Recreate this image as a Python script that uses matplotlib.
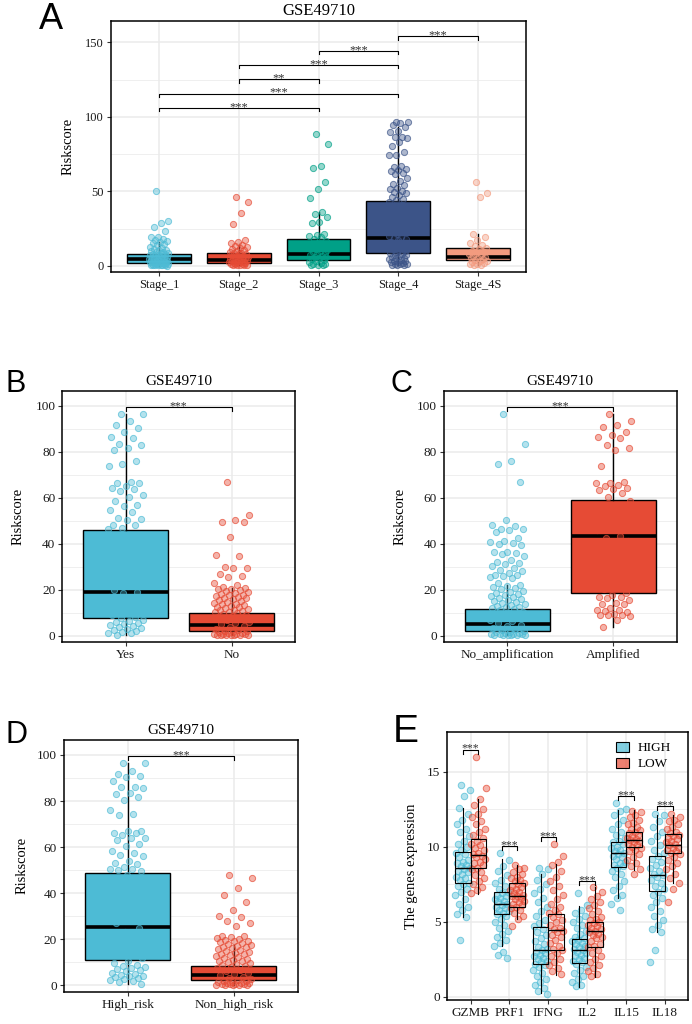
import numpy as np
import matplotlib.pyplot as plt
from matplotlib.colors import to_rgba
from matplotlib.patches import Patch

plt.rcParams['font.family'] = ['Liberation Serif', 'DejaVu Serif']

# ggsci npg colours
red = '#E64B35'
cyan = '#4DBBD5'
teal = '#00A087'
navy = '#3C5488'
salmon = '#F39B7F'

# ---------------- data ----------------
# panel A: riskscore by stage
stages = ['Stage_1', 'Stage_2', 'Stage_3', 'Stage_4', 'Stage_4S']
stage_q1 = [1.6, 1.9, 3.8, 8.8, 3.8]
stage_med = [4.6, 4.0, 7.7, 18.5, 5.6]
stage_q3 = [7.9, 8.3, 18.2, 43.4, 11.7]
stage_lo = [0.1, 0.2, 0.2, 0.5, 0.3]
stage_hi = [16.0, 14.0, 36.0, 93.4, 21.3]
stage1_pts = [50.5, 30.2, 28.5, 26.2, 23.5, 19.5, 19.0, 18.2, 17.5, 16.8, 16.0, 15.2, 14.5, 13.6,
              12.8, 12.0, 11.4, 10.8, 10.3, 9.9, 9.5, 9.1, 8.7, 8.3, 8.0, 7.6, 7.3, 7.0, 6.7, 6.4,
              6.1, 5.8, 5.5, 5.2, 5.0, 4.8, 4.6, 4.4, 4.2, 4.0, 3.8, 3.6, 3.4, 3.2, 3.0, 2.8, 2.6,
              2.4, 2.2, 2.0, 1.8, 1.6, 1.4, 1.3, 1.1, 1.0, 0.9, 0.8, 0.7, 0.6, 0.5, 0.4, 0.3, 0.2, 0.1]
stage2_pts = [46.3, 42.6, 35.2, 27.8, 17.2, 16.0, 15.0, 14.0, 13.2, 12.5, 11.8, 11.0, 10.4, 9.8,
              9.3, 8.8, 8.4, 8.0, 7.6, 7.2, 6.8, 6.4, 6.0, 5.7, 5.4, 5.1, 4.8, 4.5, 4.2, 3.9, 3.6,
              3.3, 3.0, 2.8, 2.6, 2.4, 2.2, 2.0, 1.8, 1.6, 1.4, 1.2, 1.0, 0.8, 0.6, 0.4, 0.3, 0.2]
stage3_pts = [88.4, 81.7, 66.9, 65.6, 56.2, 51.5, 45.7, 36.0, 35.0, 32.9, 29.5, 28.8, 21.0, 20.6,
              20.0, 19.2, 18.0, 16.5, 15.0, 13.8, 12.5, 11.5, 10.5, 9.8, 9.0, 8.4, 7.9, 7.4, 6.8,
              6.2, 5.6, 5.0, 4.4, 3.8, 3.2, 2.6, 2.0, 1.4, 0.9, 0.5, 0.3, 0.2]
stage4_pts = [96.6, 96.4, 96.0, 94.2, 93.0, 90.7, 89.5, 86.6, 86.2, 85.5, 83.3, 80.6, 76.1, 74.5,
              74.2, 67.2, 66.6, 65.0, 64.3, 63.8, 62.5, 61.6, 58.7, 56.9, 55.0, 54.2, 52.0, 51.3,
              50.4, 49.5, 48.6, 47.5, 46.2, 45.0, 44.0, 42.5, 40.5, 38.0, 36.0, 34.0, 32.0, 30.0,
              28.5, 27.0, 25.5, 24.0, 22.5, 21.0, 20.0, 19.0, 18.5, 18.0, 17.0, 16.0, 15.0, 14.0,
              13.0, 12.0, 11.0, 10.2, 9.5, 8.8, 8.2, 7.5, 7.0, 6.5, 6.0, 5.5, 5.0, 4.5, 4.0, 3.5,
              3.0, 2.6, 2.2, 1.8, 1.5, 1.2, 1.0, 0.8, 0.6, 0.5]
stage4s_pts = [56.4, 48.6, 46.3, 21.5, 19.0, 17.5, 15.5, 14.2, 13.0, 12.0, 11.0, 10.0, 9.2, 8.5,
               7.8, 7.2, 6.6, 6.0, 5.5, 5.0, 4.5, 4.0, 3.5, 3.0, 2.5, 2.0, 1.5, 1.0, 0.5, 0.3]
stage_sig = [(0, 2, 106.1, '***'), (0, 3, 115.6, '***'), (1, 2, 125.2, '**'),
             (1, 3, 134.8, '***'), (2, 3, 144.4, '***'), (3, 4, 154.0, '***')]

# panel B: Yes / No
b_groups = ['Yes', 'No']
b_q1 = [7.6, 2.0]
b_med = [19.1, 4.6]
b_q3 = [46.1, 9.7]
b_lo = [0.5, 0.1]
b_hi = [96.6, 20.7]
yes_pts = [96.6, 96.2, 93.2, 91.6, 90.5, 88.5, 86.3, 86.0, 83.3, 83.0, 81.8, 80.7, 76.0, 74.5,
           74.0, 67.0, 66.5, 66.2, 65.3, 64.2, 64.0, 63.0, 61.0, 60.3, 58.6, 57.0, 56.3, 54.6,
           53.8, 51.2, 50.7, 50.5, 48.2, 48.0, 47.0, 46.5, 44.0, 41.5, 38.0, 35.5, 32.0, 29.0,
           26.5, 24.0, 21.5, 19.8, 19.2, 18.6, 17.0, 15.0, 13.0, 11.5, 10.0, 9.0, 8.2, 7.6, 7.0,
           6.4, 5.9, 5.4, 5.0, 4.6, 4.2, 3.8, 3.4, 3.0, 2.6, 2.2, 1.8, 1.4, 1.0, 0.5]
no_pts = [67.0, 52.5, 50.3, 49.6, 49.4, 42.8, 35.2, 34.8, 30.0, 29.6, 29.4, 27.0, 26.1, 25.6,
          23.0, 22.1, 21.3, 20.7, 20.4, 20.1, 19.7, 19.3, 19.0, 18.6, 18.3, 17.9, 17.5, 17.2,
          16.9, 16.5, 16.2, 15.8, 15.5, 15.1, 14.7, 14.4, 14.0, 13.7, 13.4, 13.0, 12.7, 12.4,
          12.1, 11.7, 11.4, 11.1, 10.8, 10.5, 10.2, 9.9, 9.5, 9.1, 8.6, 8.0, 7.4, 6.8, 6.1, 5.5,
          4.9, 4.3, 3.7, 3.1, 2.6, 2.2, 1.9, 1.7, 1.5, 1.3, 1.1, 0.9, 0.8, 0.7, 0.6, 0.5, 0.4,
          0.3, 0.25, 0.2, 0.15, 0.1]

# panel C: MYCN status
c_groups = ['No_amplification', 'Amplified']
c_q1 = [2.2, 18.6]
c_med = [5.1, 43.5]
c_q3 = [11.5, 58.9]
c_lo = [0.1, 3.9]
c_hi = [22.0, 96.5]
noamp_pts = [96.5, 83.5, 76.0, 74.5, 67.0, 50.5, 48.0, 47.6, 46.6, 46.2, 45.8, 45.0, 42.5, 41.0,
             40.6, 40.2, 39.8, 39.4, 36.5, 36.2, 35.8, 35.4, 34.5, 33.0, 32.2, 31.6, 31.0, 30.2,
             29.5, 28.5, 28.0, 27.4, 26.5, 26.2, 25.8, 25.5, 25.2, 23.0, 22.2, 21.6, 21.0, 20.6,
             20.1, 19.6, 19.1, 18.7, 18.2, 17.8, 17.4, 17.0, 16.5, 16.1, 15.6, 15.2, 14.7, 14.3,
             13.9, 13.5, 13.1, 12.7, 12.3, 11.9, 11.5, 11.0, 10.4, 9.8, 9.1, 8.4, 7.6, 6.9, 6.2,
             5.5, 4.8, 4.1, 3.5, 2.9, 2.4, 2.0, 1.7, 1.5, 1.3, 1.1, 0.9, 0.8, 0.7, 0.6, 0.5, 0.4,
             0.3, 0.25, 0.2, 0.1]
amp_pts = [96.5, 93.2, 91.6, 90.6, 88.6, 87.2, 86.2, 86.0, 83.0, 81.7, 80.7, 74.0, 67.0, 66.6,
           66.3, 65.5, 65.0, 64.3, 64.0, 63.5, 62.0, 60.5, 58.6, 57.0, 55.0, 52.0, 49.0, 46.0,
           43.5, 42.5, 41.0, 38.0, 35.0, 32.0, 29.0, 26.0, 23.0, 20.5, 18.5, 17.6, 17.0, 16.8,
           16.5, 15.5, 14.2, 14.0, 13.6, 12.0, 11.2, 11.0, 10.8, 10.2, 9.5, 9.2, 9.0, 8.8, 8.5,
           7.0, 3.8]

# panel D: risk group
d_groups = ['High_risk', 'Non_high_risk']
d_q1 = [11.0, 2.3]
d_med = [25.2, 4.5]
d_q3 = [48.6, 8.4]
d_lo = [0.6, 0.1]
d_hi = [96.5, 17.5]
high_pts = [96.5, 96.4, 93.2, 91.6, 91.0, 90.5, 88.6, 86.3, 86.0, 85.8, 83.3, 83.0, 81.7, 80.6,
            76.2, 74.5, 74.0, 67.0, 66.8, 66.3, 66.0, 65.2, 64.0, 63.8, 63.0, 61.5, 60.5, 58.5,
            57.5, 56.5, 56.2, 54.0, 53.2, 52.5, 51.2, 50.6, 50.4, 50.0, 49.5, 48.0, 45.0, 41.0,
            37.0, 33.0, 30.0, 27.0, 25.0, 23.0, 20.0, 17.0, 14.0, 12.0, 10.5, 9.5, 9.0, 8.5, 8.0,
            7.5, 7.0, 6.5, 6.0, 5.5, 5.0, 4.6, 4.2, 4.0, 3.6, 3.2, 2.8, 2.4, 2.0, 1.5, 0.6]
nonhigh_pts = [48.0, 46.5, 42.2, 39.2, 36.2, 32.8, 30.0, 29.5, 28.0, 27.2, 25.8, 21.5, 21.2, 20.9,
               20.6, 20.2, 19.8, 19.4, 19.1, 18.7, 18.3, 17.9, 17.5, 17.1, 16.8, 16.4, 16.0, 15.6,
               15.2, 14.9, 14.5, 14.1, 13.7, 13.4, 13.0, 12.6, 12.2, 11.9, 11.5, 11.1, 10.7, 10.4,
               10.0, 9.6, 9.2, 8.8, 8.4, 7.9, 7.3, 6.7, 6.1, 5.5, 4.9, 4.3, 3.7, 3.1, 2.6, 2.2, 1.9,
               1.7, 1.5, 1.3, 1.1, 0.9, 0.8, 0.7, 0.6, 0.5, 0.4, 0.3, 0.25, 0.2, 0.15, 0.1]

# panel E: gene expression HIGH vs LOW
genes = ['GZMB', 'PRF1', 'IFNG', 'IL2', 'IL15', 'IL18']
high_q1 = [7.56, 5.49, 2.16, 2.27, 8.67, 7.04]
high_med = [8.62, 6.22, 3.11, 3.11, 9.56, 8.11]
high_q3 = [9.67, 6.96, 4.67, 3.84, 10.33, 9.38]
high_lo = [5.33, 3.38, 0.22, 0.67, 6.56, 4.33]
high_hi = [12.6, 9.16, 8.22, 6.07, 12.44, 12.1]
low_q1 = [8.62, 6.0, 3.11, 3.33, 9.96, 9.56]
low_med = [9.44, 6.73, 4.44, 4.38, 10.44, 10.1]
low_q3 = [10.56, 7.6, 5.49, 5.0, 11.0, 10.84]
low_lo = [6.84, 5.16, 1.44, 1.33, 8.49, 7.56]
low_hi = [13.2, 8.78, 8.84, 7.33, 12.44, 12.1]
gene_sig = [16.5, 10.07, 10.67, 7.73, 13.38, 12.7]
high_gzmb = [14.1, 13.8, 13.4, 12.6, 12.2, 11.8, 11.5, 11.2, 11.0, 10.7, 10.4, 10.2, 10.0, 9.8, 9.6,
             9.5, 9.3, 9.1, 9.0, 8.9, 8.8, 8.7, 8.6, 8.5, 8.4, 8.3, 8.2, 8.0, 7.9, 7.8, 7.6, 7.5,
             7.4, 7.2, 7.0, 6.8, 6.5, 6.2, 6.0, 5.8, 5.5, 5.3, 3.8]
low_gzmb = [16.0, 13.9, 13.2, 12.8, 12.5, 12.2, 12.0, 11.7, 11.5, 11.2, 11.0, 10.8, 10.6, 10.4,
            10.2, 10.1, 9.9, 9.8, 9.6, 9.5, 9.4, 9.3, 9.2, 9.0, 8.9, 8.8, 8.6, 8.5, 8.3, 8.1, 7.9,
            7.7, 7.5, 7.3, 7.1, 6.9]
high_prf1 = [9.6, 9.1, 8.7, 8.4, 8.1, 7.8, 7.6, 7.4, 7.2, 7.0, 6.9, 6.8, 6.7, 6.6, 6.5, 6.4, 6.3,
             6.2, 6.1, 6.0, 5.9, 5.8, 5.7, 5.6, 5.5, 5.4, 5.2, 5.0, 4.8, 4.6, 4.4, 4.2, 4.0, 3.8,
             3.6, 3.4, 3.0, 2.8, 2.6]
low_prf1 = [8.8, 8.6, 8.5, 8.3, 8.2, 8.0, 7.9, 7.8, 7.7, 7.6, 7.5, 7.4, 7.3, 7.2, 7.1, 7.0, 6.9,
            6.8, 6.75, 6.7, 6.6, 6.5, 6.4, 6.3, 6.2, 6.1, 6.0, 5.9, 5.8, 5.6, 5.4, 5.2, 4.7]
high_ifng = [8.6, 8.5, 8.2, 7.8, 7.5, 7.2, 6.9, 6.6, 6.3, 6.0, 5.7, 5.4, 5.1, 4.9, 4.7, 4.5, 4.3,
             4.1, 3.9, 3.7, 3.5, 3.3, 3.2, 3.1, 3.0, 2.9, 2.8, 2.7, 2.6, 2.5, 2.4, 2.3, 2.2, 2.1,
             2.0, 1.8, 1.6, 1.4, 1.2, 1.0, 0.8, 0.6, 0.4, 0.2]
low_ifng = [10.2, 9.4, 9.0, 8.8, 8.4, 8.0, 7.7, 7.4, 7.1, 6.8, 6.5, 6.2, 6.0, 5.8, 5.6, 5.5, 5.3,
            5.1, 5.0, 4.8, 4.6, 4.5, 4.4, 4.3, 4.1, 4.0, 3.8, 3.6, 3.4, 3.2, 3.1, 2.9, 2.7, 2.5,
            2.3, 2.1, 1.9, 1.7, 1.5]
high_il2 = [6.9, 6.1, 5.8, 5.6, 5.4, 5.2, 5.0, 4.8, 4.6, 4.4, 4.2, 4.0, 3.9, 3.8, 3.7, 3.6, 3.5,
            3.4, 3.3, 3.2, 3.1, 3.0, 2.9, 2.8, 2.7, 2.6, 2.5, 2.4, 2.3, 2.2, 2.0, 1.8, 1.6, 1.4,
            1.2, 1.0, 0.8, 0.7]
low_il2 = [7.3, 7.0, 6.7, 6.5, 6.3, 6.1, 5.9, 5.7, 5.5, 5.3, 5.2, 5.1, 5.0, 4.9, 4.8, 4.7, 4.6,
           4.5, 4.4, 4.3, 4.2, 4.1, 4.0, 3.9, 3.7, 3.5, 3.4, 3.3, 3.1, 2.9, 2.7, 2.5, 2.3, 2.1,
           1.9, 1.7, 1.5, 1.4]
high_il15 = [12.9, 12.5, 12.4, 12.1, 11.8, 11.5, 11.2, 11.0, 10.8, 10.6, 10.4, 10.3, 10.2, 10.0,
             9.9, 9.8, 9.7, 9.6, 9.5, 9.4, 9.3, 9.2, 9.0, 8.9, 8.8, 8.7, 8.6, 8.4, 8.2, 8.0, 7.7,
             7.4, 7.1, 6.8, 6.6, 6.2, 5.8]
low_il15 = [12.4, 12.3, 12.1, 12.0, 11.8, 11.6, 11.5, 11.3, 11.2, 11.1, 11.0, 10.9, 10.8, 10.7,
            10.6, 10.5, 10.45, 10.4, 10.3, 10.2, 10.1, 10.0, 9.9, 9.8, 9.7, 9.5, 9.3, 9.1, 8.9,
            8.7, 8.5, 8.2]
high_il18 = [12.2, 12.1, 11.7, 11.3, 11.0, 10.7, 10.4, 10.1, 9.8, 9.6, 9.4, 9.2, 9.0, 8.8, 8.6,
             8.4, 8.2, 8.1, 8.0, 7.8, 7.6, 7.4, 7.2, 7.0, 6.8, 6.6, 6.3, 6.0, 5.7, 5.4, 5.1, 4.8,
             4.5, 4.3, 3.1, 2.3]
low_il18 = [12.2, 12.0, 11.8, 11.7, 11.5, 11.3, 11.2, 11.0, 10.9, 10.8, 10.7, 10.6, 10.5, 10.4,
            10.3, 10.2, 10.1, 10.0, 9.9, 9.8, 9.7, 9.6, 9.5, 9.3, 9.1, 8.9, 8.7, 8.5, 8.2, 7.9,
            7.6, 7.2, 6.3]
high_genes = [high_gzmb, high_prf1, high_ifng, high_il2, high_il15, high_il18]
low_genes = [low_gzmb, low_prf1, low_ifng, low_il2, low_il15, low_il18]

# ---------------- drawing ----------------
W, H = 692, 1024
fig = plt.figure(figsize=(6.92, 10.24), dpi=100)
GRID = '#EBEBEB'


def px_axes(left, top, right, bottom):
    return fig.add_axes([left / W, 1 - bottom / H, (right - left) / W, (bottom - top) / H])


def jitter(n, w):
    # evenly spread horizontal offsets (golden-ratio sequence)
    return ((np.arange(n) * 0.6180339887 + 0.37) % 1.0 - 0.5) * 2 * w


def stats(q1, med, q3, lo, hi):
    return [dict(q1=a, med=b, q3=c, whislo=d, whishi=e, fliers=[])
            for a, b, c, d, e in zip(q1, med, q3, lo, hi)]


def dots(ax, x, y, c, s):
    ax.scatter(x, y, s=s, facecolor=to_rgba(c, 0.42), edgecolor=to_rgba(c, 0.7),
               lw=0.7, zorder=3)


def style(ax, xlim, ylim, major, minor, fs):
    ax.set_xlim(*xlim)
    ax.set_ylim(*ylim)
    ax.set_yticks(major)
    ax.set_yticks(minor, minor=True)
    ax.yaxis.grid(True, which='major', color=GRID, lw=1.1)
    ax.yaxis.grid(True, which='minor', color=GRID, lw=0.55)
    ax.xaxis.grid(True, which='major', color=GRID, lw=1.1)
    ax.set_axisbelow(True)
    for s in ax.spines.values():
        s.set_linewidth(1.1)
        s.set_color('black')
    ax.tick_params(which='major', length=3, width=0.8, color='#333333',
                   labelsize=fs, labelcolor='#1a1a1a', pad=2)
    ax.tick_params(which='minor', length=0)


def bracket(ax, x1, x2, y, tick, label, fs):
    ax.plot([x1, x1, x2, x2], [y - tick, y, y, y - tick], color='black', lw=0.8,
            zorder=5, clip_on=False)
    ax.annotate(label, xy=((x1 + x2) / 2, y), xytext=(0, -1.6), textcoords='offset points',
                ha='center', va='baseline', fontsize=fs, color='#333333')


def riskscore_panel(ax, groups, pts, colors, st, jw):
    pos = np.arange(len(groups))
    ax.bxp(st, positions=pos, widths=0.8, patch_artist=True, showfliers=False, showcaps=False,
           boxprops=dict(edgecolor='black', lw=1.0),
           medianprops=dict(color='black', lw=2.6),
           whiskerprops=dict(color='black', lw=1.0), zorder=2)
    for patch, c in zip(ax.patches, colors):
        patch.set_facecolor(c)
    for i, (vals, c) in enumerate(zip(pts, colors)):
        v = np.array(vals)
        dots(ax, i + jitter(len(v), jw), v, c, 20)
    ax.set_xticks(pos)
    ax.set_xticklabels(groups)


def panel_letter(x, y, s, size):
    fig.text(x / W, 1 - y / H, s, fontsize=size, va='baseline', ha='left',
             family=['Liberation Sans Narrow', 'Liberation Sans', 'DejaVu Sans'])


# ---- A ----
axA = px_axes(111, 21, 526, 272)
riskscore_panel(axA, stages, [stage1_pts, stage2_pts, stage3_pts, stage4_pts, stage4s_pts],
                [cyan, red, teal, navy, salmon],
                stats(stage_q1, stage_med, stage_q3, stage_lo, stage_hi), 0.12)
style(axA, (-0.6, 4.6), (-4.2, 164.3), [0, 50, 100, 150], [25, 75, 125], 9)
for a, b, y, lab in stage_sig:
    bracket(axA, a, b, y, 2.3, lab, 9)
axA.set_title('GSE49710', fontsize=12, pad=4)
axA.set_ylabel('Riskscore', fontsize=10.5, va='center')
axA.yaxis.set_label_coords(-0.103, 0.5)
panel_letter(39, 29, 'A', 26)

# ---- B ----
axB = px_axes(62.3, 391, 295, 641.7)
riskscore_panel(axB, b_groups, [yes_pts, no_pts], [cyan, red],
                stats(b_q1, b_med, b_q3, b_lo, b_hi), 0.17)
style(axB, (-0.6, 1.6), (-2.6, 106.4), [0, 20, 40, 60, 80, 100], [10, 30, 50, 70, 90], 9.5)
bracket(axB, 0, 1, 99.4, 1.8, '***', 8.5)
axB.set_title('GSE49710', fontsize=11, pad=4)
axB.set_ylabel('Riskscore', fontsize=10.5, va='center')
axB.yaxis.set_label_coords(-0.189, 0.5)
panel_letter(6, 392, 'B', 22)

# ---- C ----
axC = px_axes(444, 391, 676.7, 641.7)
riskscore_panel(axC, c_groups, [noamp_pts, amp_pts], [cyan, red],
                stats(c_q1, c_med, c_q3, c_lo, c_hi), 0.17)
style(axC, (-0.6, 1.6), (-2.6, 106.4), [0, 20, 40, 60, 80, 100], [10, 30, 50, 70, 90], 9.5)
bracket(axC, 0, 1, 99.4, 1.8, '***', 8.5)
axC.set_title('GSE49710', fontsize=11, pad=4)
axC.set_ylabel('Riskscore', fontsize=10.5, va='center')
axC.yaxis.set_label_coords(-0.189, 0.5)
panel_letter(391, 392, 'C', 22)

# ---- D ----
axD = px_axes(64, 740, 297.7, 991.7)
riskscore_panel(axD, d_groups, [high_pts, nonhigh_pts], [cyan, red],
                stats(d_q1, d_med, d_q3, d_lo, d_hi), 0.17)
style(axD, (-0.6, 1.6), (-2.8, 106.5), [0, 20, 40, 60, 80, 100], [10, 30, 50, 70, 90], 9.5)
bracket(axD, 0, 1, 99.7, 1.8, '***', 8.5)
axD.set_title('GSE49710', fontsize=11, pad=4)
axD.set_ylabel('Riskscore', fontsize=10.5, va='center')
axD.yaxis.set_label_coords(-0.181, 0.5)
panel_letter(6, 743, 'D', 22)

# ---- E ----
axE = px_axes(447.3, 732.3, 688.3, 1000)
gpos = np.arange(len(genes))
for off, pts, c in [(-0.2, high_genes, cyan), (0.2, low_genes, red)]:
    for i, vals in enumerate(pts):
        v = np.array(vals)
        dots(axE, i + off + jitter(len(v), 0.19), v, c, 22)
for off, st in [(-0.2, stats(high_q1, high_med, high_q3, high_lo, high_hi)),
                (0.2, stats(low_q1, low_med, low_q3, low_lo, low_hi))]:
    axE.bxp(st, positions=gpos + off, widths=0.4, patch_artist=True, showfliers=False,
            showcaps=False,
            boxprops=dict(facecolor='none', edgecolor='black', lw=0.8),
            medianprops=dict(color='black', lw=1.0),
            whiskerprops=dict(color='black', lw=0.8), zorder=4)
style(axE, (-0.6, 5.6), (-0.22, 17.65), [0, 5, 10, 15], [2.5, 7.5, 12.5], 9.5)
axE.set_xticks(gpos)
axE.set_xticklabels(genes)
for i, y in enumerate(gene_sig):
    bracket(axE, i - 0.2, i + 0.2, y, 0.27, '***', 8.5)
axE.set_ylabel('The genes expression', fontsize=10.5, va='center')
axE.yaxis.set_label_coords(-0.148, 0.5)
handles = [Patch(facecolor=to_rgba(cyan, 0.7), edgecolor='black', lw=0.8, label='HIGH'),
           Patch(facecolor=to_rgba(red, 0.7), edgecolor='black', lw=0.8, label='LOW')]
axE.legend(handles=handles, loc='upper left', bbox_to_anchor=(0.70, 0.965), frameon=False,
           fontsize=9.5, handlelength=1.0, handleheight=0.8, handletextpad=0.6,
           labelspacing=0.25, borderpad=0, borderaxespad=0)
panel_letter(393, 742, 'E', 28)

fig.savefig('out.png', dpi=100)
